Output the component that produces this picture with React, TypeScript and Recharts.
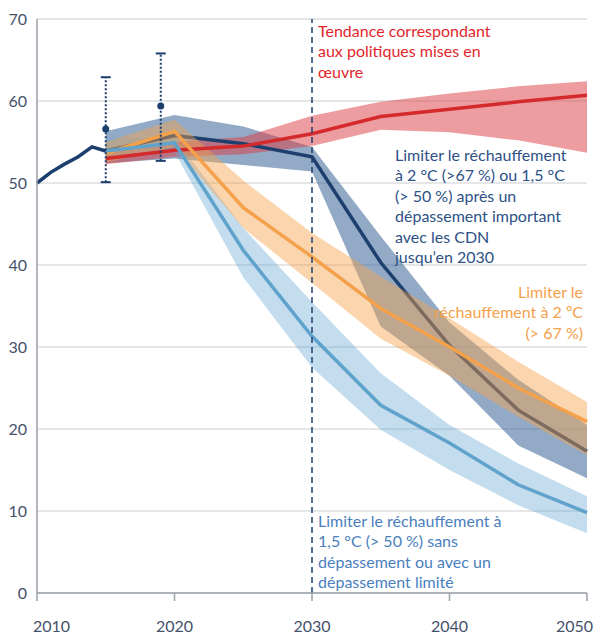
import React from "react"
import {
  ComposedChart,
  Line,
  Area,
  Scatter,
  ErrorBar,
  XAxis,
  YAxis,
  CartesianGrid,
  ReferenceLine,
} from "recharts"

// ── Data ──────────────────────────────────────────────────────────────────────
const histYears = [2010, 2011, 2012, 2013, 2014, 2015]
const histValues = [50.0, 51.3, 52.3, 53.2, 54.4, 53.9]

const scenYears = [2015, 2020, 2025, 2030, 2035, 2040, 2045, 2050]

// current policies
const policyMid = [53.0, 54.0, 54.5, 56.0, 58.1, 59.0, 59.9, 60.7]
const policyLow = [52.3, 53.2, 53.5, 54.5, 56.5, 56.2, 55.2, 53.7]
const policyHigh = [54.0, 55.0, 55.6, 58.2, 59.9, 60.9, 61.8, 62.4]

// 2 °C / 1.5 °C after overshoot, NDC until 2030
const ndcMid = [53.9, 55.8, 54.8, 53.2, 40.3, 30.2, 22.3, 17.3]
const ndcLow = [52.4, 53.0, 52.2, 51.4, 32.5, 26.5, 18.0, 14.0]
const ndcHigh = [56.3, 58.3, 56.9, 54.4, 43.5, 33.0, 26.0, 20.5]

// 2 °C (> 67 %)
const twoMid = [53.6, 56.3, 47.0, 41.0, 34.7, 30.0, 25.0, 20.9]
const twoLow = [52.5, 54.4, 44.5, 37.8, 31.0, 26.5, 21.5, 16.8]
const twoHigh = [55.0, 57.7, 50.3, 43.9, 38.6, 33.5, 28.2, 23.3]

// 1.5 °C (> 50 %)
const oneMid = [53.9, 54.9, 41.8, 31.3, 22.9, 18.3, 13.2, 9.8]
const oneLow = [53.0, 53.8, 38.5, 27.5, 19.9, 15.0, 10.7, 7.3]
const oneHigh = [55.5, 55.5, 44.5, 35.5, 26.8, 20.5, 15.8, 11.8]

// estimates with uncertainty ranges
const estYears = [2015, 2019]
const estValues = [56.6, 59.4]
const estLow = [50.1, 52.7]
const estHigh = [62.9, 65.8]

const xTicks = [2010, 2020, 2030, 2040, 2050]
const yTicks = [0, 10, 20, 30, 40, 50, 60, 70]

// ── Colours ───────────────────────────────────────────────────────────────────
const NAVY = "#1d3f6e"
const RED = "#d42a2c"
const ORANGE = "#f4a14b"
const LIGHT = "#5fa2cb"
const AXIS = "#9aa1a9"
const GRID = "#cacdd1"
const LABEL = "#45526a"
const FONT = "Lato, 'Open Sans', sans-serif"

const years = Array.from(new Set([...histYears, ...scenYears])).sort((a, b) => a - b)

const rows = years.map((year) => {
  const h = histYears.indexOf(year)
  const s = scenYears.indexOf(year)
  const has = s >= 0
  return {
    year,
    hist: h >= 0 ? histValues[h] : null,
    policy: has ? policyMid[s] : null,
    policyBand: has ? [policyLow[s], policyHigh[s]] : null,
    ndc: has ? ndcMid[s] : null,
    ndcBand: has ? [ndcLow[s], ndcHigh[s]] : null,
    two: has ? twoMid[s] : null,
    twoBand: has ? [twoLow[s], twoHigh[s]] : null,
    one: has ? oneMid[s] : null,
    oneBand: has ? [oneLow[s], oneHigh[s]] : null,
  }
})

const estRows = estYears.map((year, i) => ({
  year,
  est: estValues[i],
  estErr: [estValues[i] - estLow[i], estHigh[i] - estValues[i]],
  estLow: estLow[i],
  estHigh: estHigh[i],
}))

// ── Small renderers ───────────────────────────────────────────────────────────
const EstDot = (p: any) => <circle cx={p.cx} cy={p.cy} r={3.5} fill={NAVY} />
const Cap = (p: any) => (
  <line x1={p.cx - 5} x2={p.cx + 5} y1={p.cy} y2={p.cy} stroke={NAVY} strokeWidth={2} />
)

const XTick = (p: any) => {
  const { x, y, payload, index } = p
  let anchor: "start" | "middle" | "end" = "middle"
  let dx = 0
  if (index === 0) {
    anchor = "start"
    dx = -4
  } else if (payload.value === 2050) {
    anchor = "end"
    dx = 6
  }
  return (
    <text
      x={x + dx}
      y={y + 29}
      textAnchor={anchor}
      fill={LABEL}
      fontSize={16}
      fontFamily={FONT}
    >
      {payload.value}
    </text>
  )
}

const note = (color: string): React.CSSProperties => ({
  position: "absolute",
  color,
  fontFamily: FONT,
  fontSize: 16,
  lineHeight: "20.4px",
  whiteSpace: "nowrap",
})

// ── Chart ─────────────────────────────────────────────────────────────────────
export default function App() {
  return (
    <div style={{ position: "absolute", left: 0, top: 0, width: 596, height: 637, background: "#fff" }}>
      <ComposedChart
        width={596}
        height={637}
        data={rows}
        margin={{ top: 19, right: 9, bottom: 0, left: 0 }}
      >
        <CartesianGrid vertical={false} stroke={GRID} strokeWidth={1} />
        <XAxis
          type="number"
          dataKey="year"
          domain={[2010, 2050]}
          ticks={xTicks}
          height={44}
          tickSize={8}
          axisLine={{ stroke: AXIS, strokeWidth: 1.5 }}
          tickLine={{ stroke: AXIS, strokeWidth: 1.5 }}
          tick={<XTick />}
          interval={0}
        />
        <YAxis
          type="number"
          domain={[0, 70]}
          ticks={yTicks}
          width={37}
          axisLine={{ stroke: AXIS, strokeWidth: 1.5 }}
          tickLine={false}
          tickMargin={4}
          tick={{ fill: LABEL, fontSize: 16, fontFamily: FONT }}
          interval={0}
        />

        <Area
          type="linear"
          dataKey="ndcBand"
          stroke="none"
          fill="#3a6598"
          fillOpacity={0.55}
          connectNulls
          isAnimationActive={false}
        />
        <Area
          type="linear"
          dataKey="policyBand"
          stroke="none"
          fill="#dc3c3f"
          fillOpacity={0.5}
          connectNulls
          isAnimationActive={false}
        />
        <Area
          type="linear"
          dataKey="oneBand"
          stroke="none"
          fill="#6aa8d4"
          fillOpacity={0.4}
          connectNulls
          isAnimationActive={false}
        />
        {/* drawn as an outline-only area so the orange band can sit on top of it */}
        <Area
          type="linear"
          dataKey="ndc"
          stroke={NAVY}
          strokeWidth={3.5}
          fill="none"
          connectNulls
          isAnimationActive={false}
        />
        <Area
          type="linear"
          dataKey="twoBand"
          stroke="none"
          fill={ORANGE}
          fillOpacity={0.45}
          connectNulls
          isAnimationActive={false}
        />
        <Line
          type="linear"
          dataKey="policy"
          stroke={RED}
          strokeWidth={3.5}
          dot={false}
          connectNulls
          isAnimationActive={false}
        />
        <Line
          type="linear"
          dataKey="two"
          stroke={ORANGE}
          strokeWidth={3.5}
          dot={false}
          connectNulls
          isAnimationActive={false}
        />
        <Line
          type="linear"
          dataKey="one"
          stroke={LIGHT}
          strokeWidth={3.5}
          dot={false}
          connectNulls
          isAnimationActive={false}
        />
        <Line
          type="linear"
          dataKey="hist"
          stroke={NAVY}
          strokeWidth={3.5}
          dot={false}
          connectNulls
          isAnimationActive={false}
        />

        <ReferenceLine x={2030} stroke={NAVY} strokeWidth={1.5} strokeDasharray="6 4" />

        <Scatter data={estRows} dataKey="est" shape={EstDot} isAnimationActive={false}>
          <ErrorBar
            dataKey="estErr"
            direction="y"
            width={0}
            stroke={NAVY}
            strokeWidth={2}
            strokeDasharray="2 2"
          />
        </Scatter>
        <Scatter data={estRows} dataKey="estLow" shape={Cap} isAnimationActive={false} />
        <Scatter data={estRows} dataKey="estHigh" shape={Cap} isAnimationActive={false} />
      </ComposedChart>

      <div style={{ ...note("#e3262b"), left: 318, top: 21 }}>
        Tendance correspondant
        <br />
        aux politiques mises en
        <br />
        œuvre
      </div>
      <div style={{ ...note("#2d5186"), left: 395, top: 145 }}>
        Limiter le réchauffement
        <br />à 2 °C (&gt;67 %) ou 1,5 °C
        <br />
        (&gt; 50 %) après un
        <br />
        dépassement important
        <br />
        avec les CDN
        <br />
        jusqu’en 2030
      </div>
      <div style={{ ...note(ORANGE), right: 13, top: 282, textAlign: "right" }}>
        Limiter le
        <br />
        réchauffement à 2 ºC
        <br />
        (&gt; 67 %)
      </div>
      <div style={{ ...note("#4a80bd"), left: 318, top: 511 }}>
        Limiter le réchauffement à
        <br />
        1,5 °C (&gt; 50 %) sans
        <br />
        dépassement ou avec un
        <br />
        dépassement limité
      </div>
    </div>
  )
}
